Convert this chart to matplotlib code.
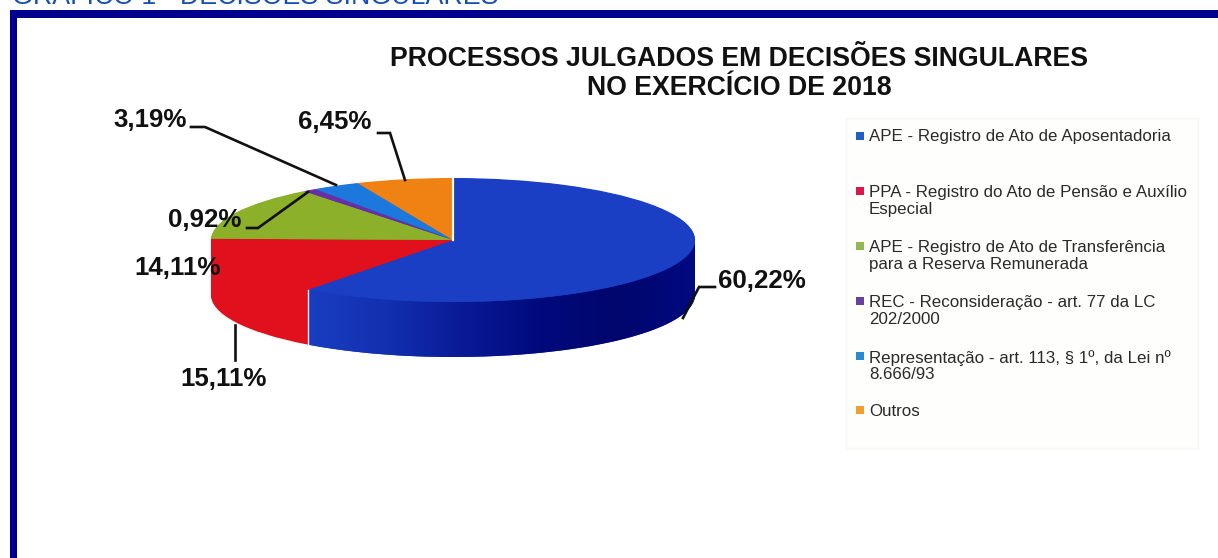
import numpy as np
import matplotlib
matplotlib.use('Agg')
import matplotlib.pyplot as plt
from matplotlib.patches import Rectangle, Polygon

plt.rcParams['font.family'] = ['Liberation Sans', 'DejaVu Sans']

W, H = 1218, 558

# Chart data, clockwise from 12 o'clock
categories = [
    'APE - Registro de Ato de Aposentadoria',
    'PPA - Registro do Ato de Pensão e Auxílio\nEspecial',
    'APE - Registro de Ato de Transferência\npara a Reserva Remunerada',
    'REC - Reconsideração - art. 77 da LC\n202/2000',
    'Representação - art. 113, § 1º, da Lei nº\n8.666/93',
    'Outros',
]
values = [60.22, 15.11, 14.11, 0.92, 3.19, 6.45]
value_labels = ['60,22%', '15,11%', '14,11%', '0,92%', '3,19%', '6,45%']
top_colors = ['#1a3ec4', '#e0101c', '#8cb02a', '#6a2fa8', '#1c78dc', '#f08214']
side_colors = ['#1a38b8', '#e0101c', '#7a9a24', '#5a2890', '#1868c0', '#d87010']
legend_colors = ['#1f5fc0', '#dc1450', '#94b850', '#6a3fa0', '#2a8ad0', '#f0a030']
chart_title = 'PROCESSOS JULGADOS EM DECISÕES SINGULARES\nNO EXERCÍCIO DE 2018'
header = 'GRÁFICO 1 - DECISÕES SINGULARES'

fig = plt.figure(figsize=(W / 100, H / 100), dpi=100, facecolor='white')

# overlay in image pixels, y going down
bg = fig.add_axes([0, 0, 1, 1], zorder=0)
bg.set_xlim(0, W)
bg.set_ylim(H, 0)
bg.axis('off')

fg = fig.add_axes([0, 0, 1, 1], zorder=3)
fg.set_xlim(0, W)
fg.set_ylim(H, 0)
fg.axis('off')
fg.patch.set_alpha(0)

# frame, only left and top are on the page
frame_color = '#00008f'
bg.add_patch(Rectangle((10, 10), 7, H, color=frame_color, lw=0))
bg.add_patch(Rectangle((10, 10), W, 8, color=frame_color, lw=0))
bg.text(12, -3, header, color='#1550b0', fontsize=19.3, va='center', ha='left', clip_on=False)

# pie, squashed by letting the axes stretch
cx, cy = 453, 240
rx, ry, depth = 242, 62, 55
pie_ax = fig.add_axes([(cx - rx) / W, 1 - (cy + ry + depth) / H, 2 * rx / W, (2 * ry + depth) / H], zorder=1)
d = depth / ry
for off in np.linspace(d, 0.01, 56):
    pie_ax.pie(values, startangle=90, counterclock=False, colors=side_colors, center=(0, -off),
               wedgeprops={'linewidth': 0.6, 'edgecolor': 'none'})

# shade the blue wall, lighter on the left and navy on the right
end_angle = 90 - values[0] / sum(values) * 360
th = np.radians(np.linspace(end_angle, 0, 120))
wall = np.r_[np.c_[np.cos(th), np.sin(th)], np.c_[np.cos(th[::-1]), np.sin(th[::-1]) - d]]
wall_patch = Polygon(wall, closed=True, transform=pie_ax.transData, fc='none', ec='none')
pie_ax.add_patch(wall_patch)
shade = np.linspace(0, 1, 256).reshape(1, -1)
img = pie_ax.imshow(shade, extent=(np.cos(th[0]), 1, -1 - d, 0), cmap=matplotlib.colors.LinearSegmentedColormap.from_list(
    'wall', ['#1a3ec0', '#1230b0', '#0a1a96', '#000a7c', '#00066c', '#000a80']), aspect='auto', zorder=5)
img.set_clip_path(wall_patch)

top_wedges, _ = pie_ax.pie(values, startangle=90, counterclock=False, colors=top_colors, center=(0, 0),
                           wedgeprops={'linewidth': 0, 'zorder': 6})
pie_ax.set_aspect('auto')
pie_ax.set_xlim(-1, 1)
pie_ax.set_ylim(-1 - d, 1)
pie_ax.axis('off')

# white seams round the blue slice
pie_ax.plot([0, 0], [0, 1], color='#fff8e8', lw=1.6, zorder=7)
a = np.radians(end_angle)
pie_ax.plot([np.cos(a), np.cos(a)], [np.sin(a), np.sin(a) - d], color='#f4e8e8', lw=1.0, zorder=7)

# titles
fg.text(739, 73.5, chart_title, fontsize=19.2, fontweight='bold', ha='center', va='center',
        color='#111111', linespacing=1.15)

# value labels and their leader lines
label_xy = [(762, 281), (224, 379), (178, 268), (205, 220), (150, 120), (335, 122)]
leaders = [
    [(715, 287), (699, 287), (683, 318)],
    [(235, 325), (235, 360)],
    None,
    [(247, 228), (258, 228), (308, 192)],
    [(191, 127), (205, 127), (336, 185)],
    [(378, 133), (390, 133), (405, 180)],
]
for txt, xy, line in zip(value_labels, label_xy, leaders):
    fg.text(xy[0], xy[1], txt, fontsize=18.6, fontweight='bold', ha='center', va='center', color='#111111')
    if line:
        xs, ys = zip(*line)
        fg.plot(xs, ys, color='#111111', lw=1.9, solid_joinstyle='miter')

# legend panel
bg.add_patch(Rectangle((846, 118), 352, 330, fc='#fefefd', ec='#f6f6f2', lw=1))
legend_y = [136, 200, 255, 310, 365, 410]
first_line_y = [136, 191, 246, 301, 356, 410]
for label, color, y, y0 in zip(categories, legend_colors, legend_y, first_line_y):
    fg.add_patch(Rectangle((856, y0 - 4), 7.5, 7.5, color=color, lw=0))
    fg.text(869, y + 1, label, fontsize=12.2, ha='left', va='center', color='#2a2a2a', linespacing=1.12)

fig.savefig('out.png', dpi=100)
